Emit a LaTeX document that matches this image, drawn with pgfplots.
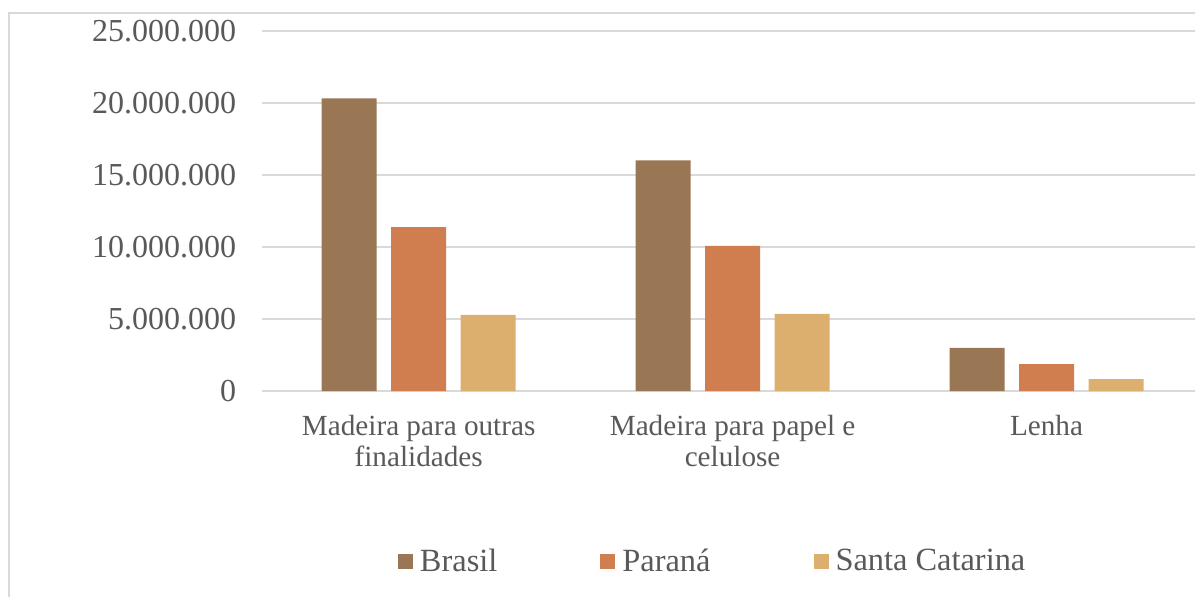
\documentclass[border=0pt]{standalone}
\usepackage{pgfplots}
\pgfplotsset{compat=1.18}
\usepackage{fontspec}
\setmainfont{Liberation Serif}
\definecolor{cBrasil}{HTML}{997754}
\definecolor{cParana}{HTML}{D07D4F}
\definecolor{cSC}{HTML}{DCAF6E}
\definecolor{gridc}{HTML}{D9D9D9}
\definecolor{txt}{HTML}{595959}
\begin{document}
\begin{tikzpicture}
\begin{axis}[
  at={(130.85pt,102.5pt)}, anchor=south west,
  scale only axis, width=470.9pt, height=180pt,
  ybar=7.25pt, bar width=27.5pt,
  xmin=-0.5, xmax=2.5, ymin=0, ymax=25000000,
  scaled y ticks=false,
  xtick={0,1,2},
  xticklabels={{Madeira para outras\\finalidades},{Madeira para papel e\\celulose},{Lenha}},
  ytick={0,5000000,10000000,15000000,20000000,25000000},
  yticklabels={0,5.000.000,10.000.000,15.000.000,20.000.000,25.000.000},
  axis line style={draw=none},
  major tick length=0pt,
  ymajorgrids, grid style={gridc, line width=0.75pt},
  tick label style={text=txt},
  xticklabel style={align=center, yshift=-8.5pt, font=\fontsize{14.6}{15.5}\selectfont},
  yticklabel style={xshift=-9.3pt, font=\fontsize{16}{17}\selectfont},
  legend columns=3,
  legend style={at={(axis description cs:0.1447,-0.4736)}, anchor=west,
    draw=none, inner sep=0pt, outer sep=0pt, text=txt,
    font=\fontsize{16.2}{17}\selectfont,
    /tikz/every even column/.append style={column sep=49.5pt}},
  legend image code/.code={\fill[#1] (0pt,-3.75pt) rectangle (7.5pt,3.75pt); \path (9pt,0pt);},
]
\addplot[fill=cBrasil, draw=none] coordinates {(0,20330000) (1,16020000) (2,2990000)};
\addplot[fill=cParana, draw=none] coordinates {(0,11380000) (1,10070000) (2,1860000)};
\addplot[fill=cSC, draw=none] coordinates {(0,5280000) (1,5350000) (2,830000)};
\legend{Brasil, Paraná, Santa Catarina}
\end{axis}
\draw[gridc, line width=0.75pt] (4.5pt,-5pt) -- (4.5pt,291.5pt) -- (610pt,291.5pt);
\pgfresetboundingbox
\path[use as bounding box] (0,0) rectangle (597.5pt,298pt);
\end{tikzpicture}
\end{document}
